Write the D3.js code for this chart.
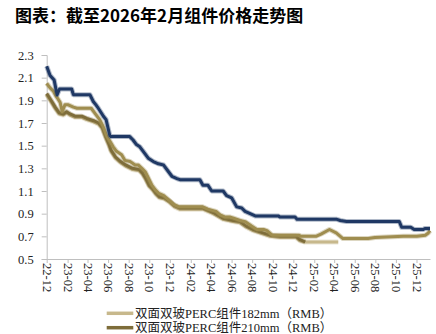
<!DOCTYPE html>
<html>
<head>
<meta charset="utf-8">
<script src="https://cdn.jsdelivr.net/npm/d3@7/dist/d3.min.js"></script>
<style>
  html, body { margin: 0; padding: 0; background: #ffffff; }
  svg { display: block; }
</style>
</head>
<body>
<svg id="chart" width="436" height="334"></svg>
<script>
// ---------- DATA ----------
const titleText = "图表：截至2026年2月组件价格走势图";
const legendLabels = ["双面双玻PERC组件182mm（RMB）", "双面双玻PERC组件210mm（RMB）"];
const yTickValues = [0.5, 0.7, 0.9, 1.1, 1.3, 1.5, 1.7, 1.9, 2.1, 2.3];
const xTickLabels = ["22-12","23-02","23-04","23-06","23-08","23-10","23-12","24-02","24-04","24-06","24-08","24-10","24-12","25-02","25-04","25-06","25-08","25-10","25-12"];

// Series 1: 双面双玻PERC组件182mm
const s182Dates = ["2022-12-01","2022-12-16","2022-12-26","2023-01-07","2023-01-19","2023-01-29","2023-02-08","2023-02-23","2023-03-15","2023-03-30","2023-04-19","2023-05-04","2023-05-15","2023-05-25","2023-06-04","2023-06-10","2023-06-23","2023-07-08","2023-07-23","2023-08-12","2023-09-01","2023-09-11","2023-09-21","2023-10-01","2023-10-11","2023-10-21","2023-10-31","2023-11-15","2023-11-30","2023-12-15","2023-12-30","2024-03-08","2024-04-08","2024-05-07","2024-06-06","2024-06-26","2024-07-15","2024-08-04","2024-08-24","2024-09-23","2024-10-23","2024-12-09","2024-12-21","2025-01-05","2025-04-13"];
const s182Values = [1.95,1.88,1.83,1.78,1.77,1.79,1.77,1.75,1.75,1.73,1.71,1.69,1.65,1.57,1.50,1.45,1.39,1.35,1.32,1.29,1.28,1.25,1.20,1.14,1.11,1.07,1.04,1.03,1.00,0.96,0.94,0.94,0.90,0.85,0.83,0.82,0.78,0.75,0.73,0.70,0.69,0.69,0.66,0.65,0.65];

// Series 2: 双面双玻PERC组件210mm
const s210Dates = ["2022-12-01","2022-12-16","2022-12-26","2023-01-07","2023-01-19","2023-01-29","2023-02-08","2023-02-23","2023-03-15","2023-03-30","2023-04-19","2023-05-04","2023-05-15","2023-05-25","2023-06-04","2023-06-10","2023-06-23","2023-07-08","2023-07-23","2023-08-12","2023-09-01","2023-09-11","2023-09-21","2023-10-01","2023-10-11","2023-10-21","2023-10-31","2023-11-15","2023-11-30","2023-12-15","2023-12-30","2024-03-08","2024-04-08","2024-05-07","2024-06-06","2024-06-26","2024-07-15","2024-08-04","2024-08-24","2024-09-23","2024-10-23","2024-12-09","2024-12-21","2025-01-05"];
const s210Values = [1.96,1.89,1.84,1.79,1.78,1.80,1.78,1.76,1.76,1.74,1.72,1.70,1.66,1.58,1.51,1.46,1.40,1.36,1.33,1.30,1.29,1.26,1.21,1.15,1.12,1.08,1.05,1.04,1.01,0.97,0.95,0.95,0.91,0.86,0.84,0.83,0.79,0.76,0.74,0.71,0.70,0.70,0.67,0.65];

// Series 3: upper olive series
const s3Dates = ["2022-12-01","2022-12-11","2022-12-21","2022-12-28","2023-01-04","2023-01-10","2023-01-16","2023-01-24","2023-02-03","2023-02-18","2023-03-01","2023-04-12","2023-04-22","2023-05-07","2023-05-17","2023-05-27","2023-06-06","2023-06-16","2023-06-26","2023-07-11","2023-07-21","2023-08-05","2023-08-20","2023-08-29","2023-09-09","2023-09-19","2023-09-29","2023-10-09","2023-10-19","2023-10-29","2023-11-13","2023-11-28","2023-12-13","2023-12-28","2024-03-07","2024-03-22","2024-04-16","2024-04-28","2024-05-13","2024-05-28","2024-06-07","2024-06-26","2024-07-11","2024-07-31","2024-08-15","2024-09-04","2024-09-14","2024-09-29","2024-12-18","2024-12-23","2025-02-06","2025-02-21","2025-03-18","2025-04-07","2025-04-27","2025-07-10","2025-07-31","2025-10-23","2025-12-02","2025-12-27","2026-01-05","2026-01-10"];
const s3Values = [2.05,2.01,1.98,1.94,1.91,1.88,1.80,1.86,1.86,1.84,1.83,1.83,1.79,1.73,1.67,1.59,1.54,1.49,1.45,1.42,1.37,1.36,1.33,1.33,1.30,1.27,1.21,1.15,1.11,1.08,1.06,1.02,0.98,0.96,0.96,0.94,0.92,0.89,0.87,0.87,0.86,0.84,0.83,0.79,0.76,0.76,0.75,0.71,0.71,0.70,0.70,0.72,0.76,0.73,0.68,0.68,0.69,0.70,0.70,0.71,0.73,0.75];

// Series 4: navy series
const s4Dates = ["2022-12-01","2022-12-11","2022-12-17","2022-12-23","2022-12-29","2023-01-01","2023-01-08","2023-02-13","2023-02-18","2023-04-08","2023-04-18","2023-04-26","2023-05-03","2023-05-18","2023-05-26","2023-06-06","2023-06-09","2023-08-04","2023-08-14","2023-08-24","2023-09-03","2023-09-18","2023-09-28","2023-10-13","2023-10-28","2023-11-12","2023-11-27","2023-12-07","2023-12-22","2023-12-31","2024-02-28","2024-03-08","2024-03-23","2024-04-03","2024-05-07","2024-05-17","2024-06-01","2024-06-16","2024-07-01","2024-07-11","2024-07-26","2024-08-10","2024-10-17","2024-10-23","2024-12-06","2024-12-12","2025-04-09","2025-04-19","2025-05-08","2025-10-11","2025-10-18","2025-11-14","2025-11-24","2025-12-21","2025-12-26","2026-01-10"];
const s4Values = [2.20,2.12,2.10,2.08,1.99,1.95,2.00,2.00,1.95,1.95,1.89,1.86,1.83,1.76,1.73,1.59,1.58,1.58,1.55,1.51,1.49,1.43,1.39,1.36,1.34,1.33,1.27,1.23,1.21,1.20,1.20,1.15,1.15,1.10,1.10,1.06,1.04,0.96,0.95,0.92,0.90,0.88,0.88,0.87,0.87,0.85,0.85,0.84,0.83,0.83,0.78,0.78,0.76,0.76,0.77,0.77];

const seriesColors = ["#c7b88c", "#7e6d3a", "#9f8d4f", "#1f3864"];

// ---------- CHART ----------
const parse = d3.timeParse("%Y-%m-%d");
const svg = d3.select("#chart");
const serif = "'Liberation Serif','Times New Roman','Noto Sans CJK SC',serif";

svg.append("text")
  .attr("x", 15).attr("y", 22)
  .attr("font-family", "'Noto Sans CJK SC','Noto Sans',sans-serif")
  .attr("font-weight", "bold")
  .attr("font-size", 17)
  .attr("fill", "#000")
  .text(titleText);

const x = d3.scaleTime()
  .domain([parse("2022-12-01"), parse("2026-01-10")])
  .range([46.7, 430]);
const y = d3.scaleLinear().domain([0.5, 2.3]).range([259, 55]);

// Y axis
const yAxis = svg.append("g").attr("transform", "translate(46.7,0)")
  .call(d3.axisLeft(y).tickValues(yTickValues).tickFormat(d3.format(".1f")).tickSize(5).tickPadding(8));
yAxis.select(".domain").attr("stroke", "#bfbfbf");
yAxis.selectAll(".tick line").attr("stroke", "#bfbfbf");
yAxis.selectAll("text").attr("font-family", serif).attr("font-size", 12.5).attr("fill", "#222");

// X axis
const xTicks = xTickLabels.map(s => parse("20" + s + "-01"));
const xAxis = svg.append("g").attr("transform", "translate(0,259)")
  .call(d3.axisBottom(x).tickValues(xTicks).tickFormat(d3.timeFormat("%y-%m")).tickSize(4).tickSizeOuter(0));
xAxis.select(".domain").attr("stroke", "#bfbfbf");
xAxis.selectAll(".tick line").attr("stroke", "#bfbfbf");
xAxis.selectAll("text")
  .attr("font-family", serif).attr("font-size", 12.5).attr("fill", "#222")
  .attr("transform", "rotate(90)")
  .attr("text-anchor", "start")
  .attr("x", 4).attr("y", 0).attr("dy", "0.35em");

// Lines
const line = d3.line().x(d => x(d[0])).y(d => y(d[1]));
const seriesList = [
  [s182Dates, s182Values],
  [s210Dates, s210Values],
  [s3Dates, s3Values],
  [s4Dates, s4Values]
];
seriesList.forEach((s, i) => {
  const pts = s[0].map((d, j) => [parse(d), s[1][j]]);
  svg.append("path")
    .datum(pts)
    .attr("fill", "none")
    .attr("stroke", seriesColors[i])
    .attr("stroke-opacity", 0.35)
    .attr("stroke-width", 5)
    .attr("stroke-linejoin", "round")
    .attr("d", line);
  svg.append("path")
    .datum(pts)
    .attr("fill", "none")
    .attr("stroke", seriesColors[i])
    .attr("stroke-width", 3)
    .attr("stroke-linejoin", "round")
    .attr("d", line);
});

// Legend
const legend = svg.append("g");
legendLabels.forEach((lab, i) => {
  const ly = 313.3 + i * 14.4;
  legend.append("line")
    .attr("x1", 106.7).attr("x2", 133.3).attr("y1", ly).attr("y2", ly)
    .attr("stroke", seriesColors[i]).attr("stroke-width", 3.5);
  legend.append("text")
    .attr("x", 135).attr("y", ly).attr("dy", "0.35em")
    .attr("font-family", serif).attr("font-size", 12.5).attr("fill", "#222")
    .text(lab);
});
</script>
</body>
</html>
